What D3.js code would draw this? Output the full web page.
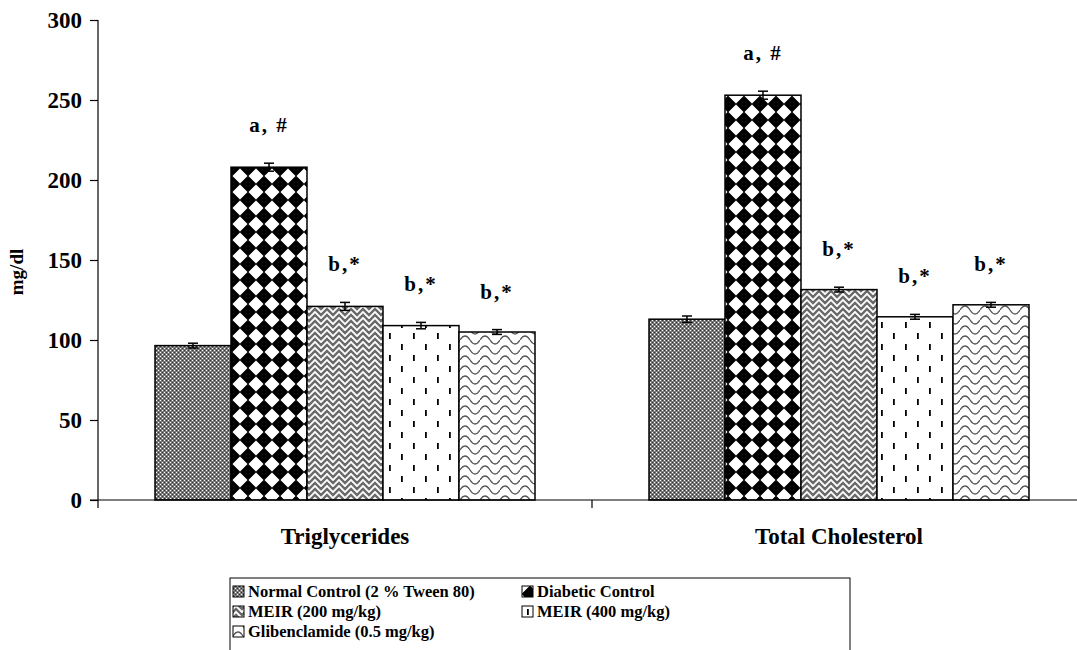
<!DOCTYPE html>
<html>
<head>
<meta charset="utf-8">
<script src="https://cdn.jsdelivr.net/npm/d3@7"></script>
<style>
  body { margin: 0; background: #fff; }
  text { font-family: "Liberation Serif", "Times New Roman", serif; font-weight: bold; fill: #000; }
</style>
</head>
<body>
<div id="chart"></div>
<script>
// data
var categories = ["Triglycerides", "Total Cholesterol"];
var groups = ["Normal Control (2 % Tween 80)", "Diabetic Control", "MEIR (200 mg/kg)", "MEIR (400 mg/kg)", "Glibenclamide (0.5 mg/kg)"];
var triglycerides = [96.5, 208, 121, 109, 105];
var cholesterol = [113, 253, 131.5, 114.5, 122];
var tgErrors = [1.5, 2.5, 2.5, 2, 1.5];
var tcErrors = [2, 2.5, 1.5, 1.5, 1.5];
var tgMarks = ["", "a, #", "b,*", "b,*", "b,*"];
var tcMarks = ["", "a, #", "b,*", "b,*", "b,*"];
var yTicks = [0, 50, 100, 150, 200, 250, 300];

var width = 1077, height = 650;
var margin = {top: 20, left: 98};

var svg = d3.select("#chart").append("svg")
	.attr("width", width)
	.attr("height", height);

// patterns
var defs = svg.append("defs");

function pattern(id, w, h) {
	return defs.append("pattern")
		.attr("id", id)
		.attr("patternUnits", "userSpaceOnUse")
		.attr("width", w)
		.attr("height", h);
}

var p0 = pattern("p0", 4, 4);
p0.append("rect").attr("width", 4).attr("height", 4).attr("fill", "#7a7a7a");
p0.append("rect").attr("x", 0).attr("y", 0).attr("width", 1).attr("height", 1).attr("fill", "#fff");
p0.append("rect").attr("x", 2).attr("y", 2).attr("width", 1).attr("height", 1).attr("fill", "#fff");
p0.append("rect").attr("x", 2).attr("y", 0).attr("width", 1).attr("height", 1).attr("fill", "#333");
p0.append("rect").attr("x", 0).attr("y", 2).attr("width", 1).attr("height", 1).attr("fill", "#333");

var p1 = pattern("p1", 16, 16);
p1.append("rect").attr("width", 16).attr("height", 16).attr("fill", "#fff");
p1.append("path").attr("d", "M8,1 L15,8 L8,15 L1,8 Z").attr("fill", "#000")
	.attr("stroke", "#000").attr("stroke-width", 2).attr("stroke-linejoin", "round");

var p2 = pattern("p2", 12, 12);
p2.append("rect").attr("width", 12).attr("height", 12).attr("fill", "#fff");
p2.append("path").attr("d", "M-3,9 L3,3 L9,9 L15,3 M-3,15 L3,9 L9,15 L15,9 M-3,3 L3,-3 L9,3 L15,-3")
	.attr("fill", "none").attr("stroke", "#6a6a6a").attr("stroke-width", 2.4);

var p3 = pattern("p3", 24, 22);
p3.append("rect").attr("width", 24).attr("height", 22).attr("fill", "#fff");
p3.append("rect").attr("x", 5).attr("y", 3).attr("width", 1.8).attr("height", 6).attr("fill", "#000");
p3.append("rect").attr("x", 17).attr("y", 14).attr("width", 1.8).attr("height", 6).attr("fill", "#000");

var p4 = pattern("p4", 20, 20);
p4.append("rect").attr("width", 20).attr("height", 20).attr("fill", "#fff");
p4.append("path").attr("d", "M0,10 Q5,2 10,10 Q15,18 20,10 M0,20 Q5,12 10,20 M10,0 Q15,8 20,0 M10,20 Q15,28 20,20 M-10,20 Q-5,28 0,20")
	.attr("fill", "none").attr("stroke", "#555").attr("stroke-width", 1.3);

var fills = ["url(#p0)", "url(#p1)", "url(#p2)", "url(#p3)", "url(#p4)"];

// scales
var y = d3.scaleLinear().domain([0, 300]).range([500, margin.top]);
var x0 = d3.scaleBand().domain(categories).range([margin.left, 1086]).paddingInner(0).paddingOuter(0);
var x1 = d3.scaleBand().domain(groups).range([0, x0.bandwidth()]).paddingOuter(0.75);

var seriesValues = [triglycerides, cholesterol];
var seriesErrors = [tgErrors, tcErrors];
var seriesMarks = [tgMarks, tcMarks];

var data = [];
categories.forEach(function(c, ci) {
	groups.forEach(function(g, gi) {
		data.push({cat: c, group: g, gi: gi, value: seriesValues[ci][gi], err: seriesErrors[ci][gi], mark: seriesMarks[ci][gi]});
	});
});

// bars
svg.selectAll(".bar")
	.data(data)
	.enter()
	.append("rect")
		.attr("class", "bar")
		.attr("x", function(d) { return x0(d.cat) + x1(d.group); })
		.attr("y", function(d) { return y(d.value); })
		.attr("width", x1.bandwidth())
		.attr("height", function(d) { return y(0) - y(d.value); })
		.attr("fill", function(d) { return fills[d.gi]; })
		.attr("stroke", "#000")
		.attr("stroke-width", 1.5);

// error bars
var eb = svg.selectAll(".err")
	.data(data)
	.enter()
	.append("g")
		.attr("class", "err")
		.attr("transform", function(d) { return "translate(" + (x0(d.cat) + x1(d.group) + x1.bandwidth() / 2) + ",0)"; });

eb.append("line")
	.attr("y1", function(d) { return y(d.value - d.err); })
	.attr("y2", function(d) { return y(d.value + d.err); })
	.attr("stroke", "#000").attr("stroke-width", 1.5);
eb.append("line")
	.attr("x1", -5).attr("x2", 5)
	.attr("y1", function(d) { return y(d.value + d.err); })
	.attr("y2", function(d) { return y(d.value + d.err); })
	.attr("stroke", "#000").attr("stroke-width", 1.5);
eb.append("line")
	.attr("x1", -5).attr("x2", 5)
	.attr("y1", function(d) { return y(d.value - d.err); })
	.attr("y2", function(d) { return y(d.value - d.err); })
	.attr("stroke", "#000").attr("stroke-width", 1.5);

// significance marks
svg.selectAll(".mark")
	.data(data.filter(function(d) { return d.mark; }))
	.enter()
	.append("text")
		.attr("class", "mark")
		.attr("x", function(d) { return x0(d.cat) + x1(d.group) + x1.bandwidth() / 2; })
		.attr("y", function(d) { return y(d.value + d.err) - 31; })
		.attr("text-anchor", "middle")
		.style("font-size", "21px")
		.style("letter-spacing", "2px")
		.text(function(d) { return d.mark; });

// y axis
var yAxis = svg.append("g")
	.attr("transform", "translate(" + margin.left + ",0)")
	.call(d3.axisLeft(y).tickValues(yTicks).tickSize(8).tickPadding(8));
yAxis.select(".domain").attr("d", "M0," + y(300) + "V508").attr("stroke", "#000").attr("stroke-width", 1.2);
yAxis.selectAll(".tick line").attr("stroke", "#000").attr("stroke-width", 1.2);
yAxis.selectAll(".tick text")
	.style("font-size", "23px")
	.style("font-family", "Liberation Serif, serif")
	.style("font-weight", "bold")
	.attr("fill", "#000");

// x axis
var xAxis = svg.append("g")
	.attr("transform", "translate(0," + y(0) + ")");
xAxis.append("line")
	.attr("x1", margin.left - 8).attr("x2", width)
	.attr("stroke", "#000").attr("stroke-width", 1.2);
xAxis.selectAll(".sep")
	.data(categories)
	.enter()
	.append("line")
		.attr("class", "sep")
		.attr("x1", function(d) { return x0(d) + x0.bandwidth(); })
		.attr("x2", function(d) { return x0(d) + x0.bandwidth(); })
		.attr("y1", 0).attr("y2", 8)
		.attr("stroke", "#000").attr("stroke-width", 1.2);
xAxis.selectAll(".cat")
	.data(categories)
	.enter()
	.append("text")
		.attr("class", "cat")
		.attr("x", function(d) { return x0(d) + x0.bandwidth() / 2; })
		.attr("y", 44)
		.attr("text-anchor", "middle")
		.style("font-size", "23px")
		.text(function(d) { return d; });

svg.append("text")
	.attr("transform", "translate(23,272) rotate(-90)")
	.attr("text-anchor", "middle")
	.style("font-size", "19px")
	.text("mg/dl");

// legend
var legend = svg.append("g").attr("transform", "translate(230,578)");
legend.append("rect")
	.attr("width", 620).attr("height", 80)
	.attr("fill", "#fff").attr("stroke", "#000").attr("stroke-width", 1);

var li = legend.selectAll(".li")
	.data(groups)
	.enter()
	.append("g")
		.attr("class", "li")
		.attr("transform", function(d, i) { return "translate(" + (3 + (i % 2) * 289) + "," + (8 + Math.floor(i / 2) * 20) + ")"; });
li.append("rect")
	.attr("width", 11).attr("height", 11)
	.attr("fill", function(d, i) { return fills[i]; })
	.attr("stroke", "#000").attr("stroke-width", 1);
li.append("text")
	.attr("x", 15).attr("y", 11)
	.style("font-size", "16.5px")
	.text(function(d) { return d; });
</script>
</body>
</html>
